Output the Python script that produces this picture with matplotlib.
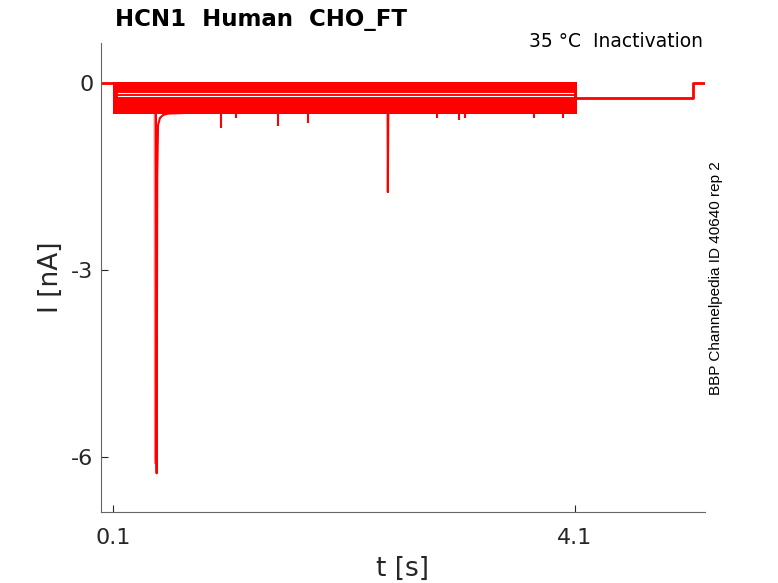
import matplotlib.pyplot as plt
import numpy as np

# holding level before / after the protocol
base_t = [0.0, 0.1]
base_i = [0.0, 0.0]
tail_t = [4.12, 5.12, 5.12, 5.225]
tail_i = [-0.24, -0.24, 0.0, 0.0]

# envelope of the overlapping sweeps (0.1 .. 4.12 s)
band_t = [0.1, 0.1, 4.12, 4.12]
band_top = [0.0, 0.01, 0.01, 0.0]
band_bot = [0.0, -0.49, -0.49, -0.24]
white_lvls = [-0.165, -0.20]
white_t = [0.14, 4.08]

# big inward spikes
spike1_t = [0.459, 0.462, 0.466, 0.470]
spike1_i = [-0.49, -5.9, -6.1, -0.6]
spike2_t = [0.472, 0.476, 0.478, 0.483, 0.490, 0.507, 0.533, 0.576, 0.723]
spike2_i = [-0.49, -6.0, -6.26, -1.5, -0.674, -0.56, -0.513, -0.49, -0.48]
spike3_t = [2.478, 2.480, 2.484]
spike3_i = [-0.49, -1.75, -0.49]

# small glitches below the band
glitch_t = [1.035, 1.165, 1.53, 1.79, 2.91, 3.10, 3.15, 3.75, 4.00]
glitch_i = [-0.71, -0.55, -0.67, -0.62, -0.54, -0.58, -0.55, -0.55, -0.55]

red = '#ff0000'
fig = plt.figure(figsize=(7.78, 5.83), dpi=100)
ax = fig.add_axes([0.1298, 0.1218, 0.7763, 0.8044])

ax.plot(base_t, base_i, color=red, lw=2)
ax.plot(tail_t, tail_i, color=red, lw=2)
ax.fill_between(band_t, band_bot, band_top, color=red, lw=0)
for lv in white_lvls:
    ax.plot(white_t, [lv, lv], color='white', lw=0.8)
ax.plot(spike1_t, spike1_i, color=red, lw=1.2, alpha=0.5)
ax.plot(spike2_t, spike2_i, color=red, lw=1.5)
ax.plot(spike3_t, spike3_i, color=red, lw=1.5)
for t, i in zip(glitch_t, glitch_i):
    ax.plot([t, t], [-0.45, i], color=red, lw=1.5)

ax.set_xlim(-0.004, 5.226)
ax.set_ylim(-6.88, 0.642)
ax.set_xticks([0.1, 4.1])
ax.set_xticklabels(['0.1', '4.1'])
ax.set_yticks([-6, -3, 0])
ax.set_yticklabels(['-6', '-3', '0'])
ax.tick_params(direction='in', length=5, labelsize=16, colors='#262626')
ax.tick_params(axis='x', pad=11.5)
ax.tick_params(axis='y', pad=5.5)
for s in ['top', 'right']:
    ax.spines[s].set_visible(False)
for s in ['left', 'bottom']:
    ax.spines[s].set_color('#666666')
ax.set_xlabel('t [s]', fontsize=19, color='#262626', labelpad=6)
ax.set_ylabel('I [nA]', fontsize=19, color='#262626', labelpad=5)

fig.text(115/778, 1 - 26/583, 'HCN1  Human  CHO_FT', fontsize=16.5, fontweight='bold')
fig.text(703/778, 1 - 47/583, '35 °C  Inactivation', fontsize=13.5, ha='right')
fig.text(716/778, 1 - 278/583, 'BBP Channelpedia ID 40640 rep 2', fontsize=11,
         family='Liberation Sans', rotation=90, ha='center', va='center')

fig.savefig('out.png')
